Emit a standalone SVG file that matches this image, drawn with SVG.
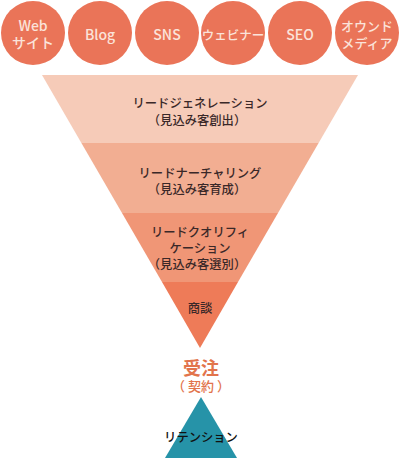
<svg xmlns="http://www.w3.org/2000/svg" width="400" height="458" viewBox="0 0 400 458">
<style>
.c{fill:#ea7458}
.ct{fill:#fbe3da;font-family:"Noto Sans CJK JP","Noto Sans",sans-serif;font-size:14px;font-weight:500;text-anchor:middle;dominant-baseline:central}
.ft{fill:#3a2828;font-family:"Noto Sans CJK JP",sans-serif;font-size:12.3px;font-weight:500;text-anchor:middle;dominant-baseline:central}
.ot{fill:#e2744c;font-family:"Noto Sans CJK JP",sans-serif;text-anchor:middle;dominant-baseline:central;font-weight:bold}
</style>
<rect width="400" height="458" fill="#ffffff"/>
<g id="web"><circle class="c" cx="33" cy="33" r="32"/><text class="ct" x="33" y="25">Web</text><text class="ct" x="33" y="42">サイト</text></g>
<g id="blog"><circle class="c" cx="100" cy="33" r="32"/><text class="ct" x="100" y="34">Blog</text></g>
<g id="sns"><circle class="c" cx="167" cy="33" r="32"/><text class="ct" x="167" y="34">SNS</text></g>
<g id="webinar"><circle class="c" cx="233" cy="33" r="32"/><text class="ct" x="233" y="34" style="font-size:12.5px">ウェビナー</text></g>
<g id="seo"><circle class="c" cx="300" cy="33" r="32"/><text class="ct" x="300" y="34">SEO</text></g>
<g id="owned"><circle class="c" cx="367" cy="33" r="32"/><text class="ct" x="367" y="25" style="font-size:13px">オウンド</text><text class="ct" x="367" y="42" style="font-size:13px">メディア</text></g>
<g id="funnel">
<g id="generation"><polygon points="42,75 358,75 318.6,143 81.4,143" fill="#f6cbb8"/><text class="ft" x="200" y="103">リードジェネレーション</text><text class="ft" x="197" y="120">（見込み客創出）</text></g>
<g id="nurturing"><polygon points="81.4,143 318.6,143 278,213 122,213" fill="#f2ae92"/><text class="ft" x="200" y="173">リードナーチャリング</text><text class="ft" x="197" y="189">（見込み客育成）</text></g>
<g id="qualification"><polygon points="122,213 278,213 238,282 162,282" fill="#f09676"/><text class="ft" x="200" y="232">リードクオリフィ</text><text class="ft" x="200" y="248">ケーション</text><text class="ft" x="197" y="264">（見込み客選別）</text></g>
<g id="shodan"><polygon points="162,282 238,282 200,348" fill="#ee7b58"/><text class="ft" x="200" y="308">商談</text></g>
</g>
<g id="order"><text class="ot" x="201" y="367" style="font-size:18px">受注</text><text class="ot" x="201" y="385" style="font-size:13px;font-weight:500">（ 契約 ）</text></g>
<g id="retention"><polygon points="201,397 237,458 165,458" fill="#2693a8"/><text class="ft" x="201" y="437" style="fill:#111">リテンション</text></g>
<g id="connectors"></g>
</svg>
